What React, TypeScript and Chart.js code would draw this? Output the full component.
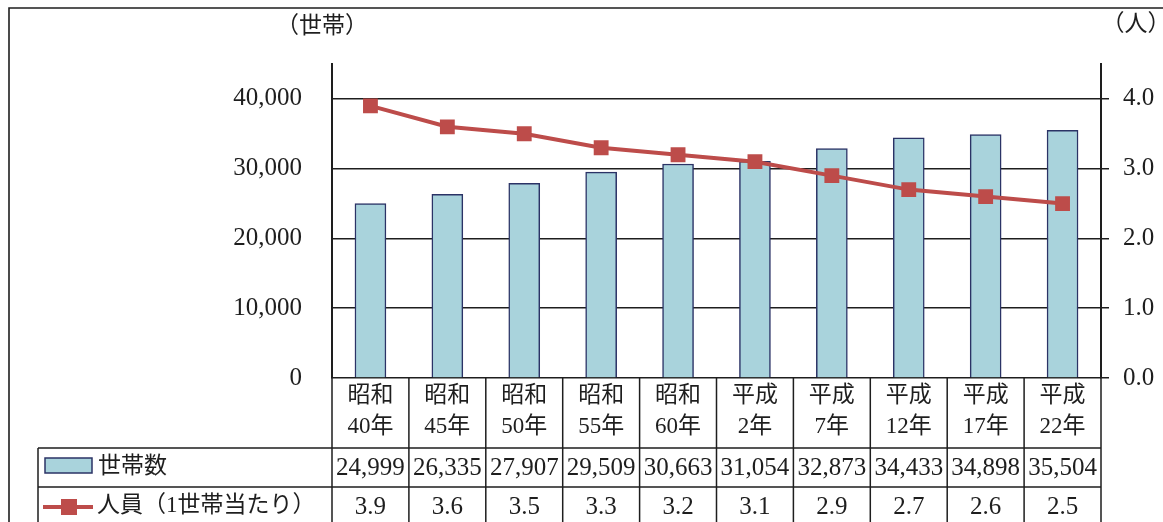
import React, { useEffect, useRef } from 'react';
import { Chart, registerables } from 'chart.js';

Chart.register(...registerables);

const categories: string[][] = [
  ['昭和', '40年'], ['昭和', '45年'], ['昭和', '50年'], ['昭和', '55年'], ['昭和', '60年'],
  ['平成', '2年'], ['平成', '7年'], ['平成', '12年'], ['平成', '17年'], ['平成', '22年'],
];
const households = [24999, 26335, 27907, 29509, 30663, 31054, 32873, 34433, 34898, 35504];
const personsPerHousehold = [3.9, 3.6, 3.5, 3.3, 3.2, 3.1, 2.9, 2.7, 2.6, 2.5];
const householdLabel = '世帯数';
const personsLabel = '人員（1世帯当たり）';
const leftUnit = '（世帯）';
const rightUnit = '（人）';
const leftTickValues = [0, 10000, 20000, 30000, 40000];
const rightTickValues = [0, 1, 2, 3, 4];
const leftMax = 45000;
const rightMax = 4.5;

const FONT = '"Liberation Serif", "Noto Sans CJK JP", serif';
const INK = '#1e1e1e';
const BAR_FILL = '#A9D3DC';
const BAR_EDGE = '#2B3366';
const LINE_RED = '#BD4C4A';

const tablePlugin = {
  id: 'tablePlugin',
  afterDraw(chart: any) {
    const ctx = chart.ctx as CanvasRenderingContext2D;
    const { left, right, bottom } = chart.chartArea;
    const xs = chart.scales.x;
    const W = chart.width;
    const H = chart.height;
    const n = categories.length;
    ctx.save();
    ctx.strokeStyle = INK;
    ctx.lineWidth = 1.6;
    // outer frame
    ctx.beginPath();
    ctx.moveTo(9, H + 5);
    ctx.lineTo(9, 8);
    ctx.lineTo(W + 5, 8);
    ctx.stroke();
    // column boundaries
    const bounds: number[] = [left];
    for (let i = 1; i < n; i++) bounds.push((xs.getPixelForValue(i - 1) + xs.getPixelForValue(i)) / 2);
    bounds.push(right);
    ctx.lineWidth = 1.5;
    ctx.beginPath();
    bounds.forEach((b) => {
      ctx.moveTo(b, bottom);
      ctx.lineTo(b, H + 5);
    });
    const row1 = bottom + 70;
    const row2 = bottom + 109;
    const tableLeft = 38;
    ctx.moveTo(tableLeft, row1);
    ctx.lineTo(right, row1);
    ctx.moveTo(tableLeft, row2);
    ctx.lineTo(right, row2);
    ctx.moveTo(tableLeft, row1);
    ctx.lineTo(tableLeft, H + 5);
    ctx.stroke();

    // values
    ctx.fillStyle = INK;
    ctx.font = `25px ${FONT}`;
    ctx.textAlign = 'center';
    ctx.textBaseline = 'middle';
    for (let i = 0; i < n; i++) {
      const cx = xs.getPixelForValue(i);
      ctx.fillText(households[i].toLocaleString('en-US'), cx, row1 + 20);
      ctx.fillText(personsPerHousehold[i].toFixed(1), cx, row2 + 20);
    }

    // legend swatches
    ctx.fillStyle = BAR_FILL;
    ctx.fillRect(45, row1 + 10, 47, 15);
    ctx.strokeStyle = BAR_EDGE;
    ctx.lineWidth = 1.5;
    ctx.strokeRect(45, row1 + 10, 47, 15);
    ctx.strokeStyle = LINE_RED;
    ctx.lineWidth = 4;
    ctx.beginPath();
    ctx.moveTo(43, row2 + 20);
    ctx.lineTo(93, row2 + 20);
    ctx.stroke();
    ctx.fillStyle = LINE_RED;
    ctx.fillRect(61, row2 + 12, 16, 16);

    // legend texts
    ctx.fillStyle = INK;
    ctx.font = `23px ${FONT}`;
    ctx.textAlign = 'left';
    ctx.fillText(householdLabel, 98, row1 + 19);
    ctx.fillText(personsLabel, 97, row2 + 19);

    // units
    ctx.textAlign = 'center';
    ctx.fillText(leftUnit, left - 10, 27);
    ctx.fillText(rightUnit, right + 35, 25);
    ctx.restore();
  },
};

export default function App() {
  const ref = useRef<HTMLCanvasElement>(null);
  useEffect(() => {
    if (!ref.current) return;
    const chart = new Chart(ref.current, {
      type: 'bar',
      data: {
        labels: categories as any,
        datasets: [
          {
            type: 'line',
            label: personsLabel,
            data: personsPerHousehold,
            yAxisID: 'y1',
            borderColor: LINE_RED,
            backgroundColor: LINE_RED,
            borderWidth: 4,
            pointStyle: 'rect',
            pointRadius: 10.5,
            pointBorderWidth: 0,
            pointBackgroundColor: LINE_RED,
            tension: 0,
            order: 1,
          } as any,
          {
            type: 'bar',
            label: householdLabel,
            data: households,
            yAxisID: 'y',
            backgroundColor: BAR_FILL,
            borderColor: BAR_EDGE,
            borderWidth: 1.5,
            barThickness: 31,
            order: 2,
          } as any,
        ],
      },
      options: {
        responsive: false,
        animation: false,
        layout: { padding: { top: 64, bottom: 75, left: 0, right: 0 } },
        plugins: { legend: { display: false }, tooltip: { enabled: false } },
        scales: {
          x: {
            grid: { display: false, drawTicks: false },
            border: { display: false },
            ticks: {
              color: INK,
              font: { family: FONT, size: 23, lineHeight: 1.35 },
              padding: 2,
              maxRotation: 0,
              autoSkip: false,
            },
            afterFit: (s: any) => { s.height = 69; },
          },
          y: {
            position: 'left',
            min: 0,
            max: leftMax,
            afterBuildTicks: (s: any) => { s.ticks = leftTickValues.map((v) => ({ value: v })); },
            ticks: {
              color: INK,
              font: { family: FONT, size: 25 },
              padding: 30,
              autoSkip: false,
              callback: (v: any) => Number(v).toLocaleString('en-US'),
            },
            grid: { drawTicks: false, lineWidth: 1.5, color: INK },
            border: { color: INK, width: 2 },
            afterFit: (s: any) => { s.width = 332; },
          },
          y1: {
            position: 'right',
            min: 0,
            max: rightMax,
            afterBuildTicks: (s: any) => { s.ticks = rightTickValues.map((v) => ({ value: v })); },
            ticks: {
              color: INK,
              font: { family: FONT, size: 25 },
              padding: 14,
              autoSkip: false,
              callback: (v: any) => Number(v).toFixed(1),
            },
            grid: { drawOnChartArea: false, tickLength: 8, lineWidth: 1.5, color: INK },
            border: { color: INK, width: 2 },
            afterFit: (s: any) => { s.width = 62; },
          },
        },
      } as any,
      plugins: [tablePlugin],
    });
    return () => chart.destroy();
  }, []);
  return (
    <div style={{ position: 'fixed', left: 0, top: 0, width: 1163, height: 522, background: '#fff' }}>
      <canvas ref={ref} width={1163} height={522} style={{ display: 'block' }} />
    </div>
  );
}
